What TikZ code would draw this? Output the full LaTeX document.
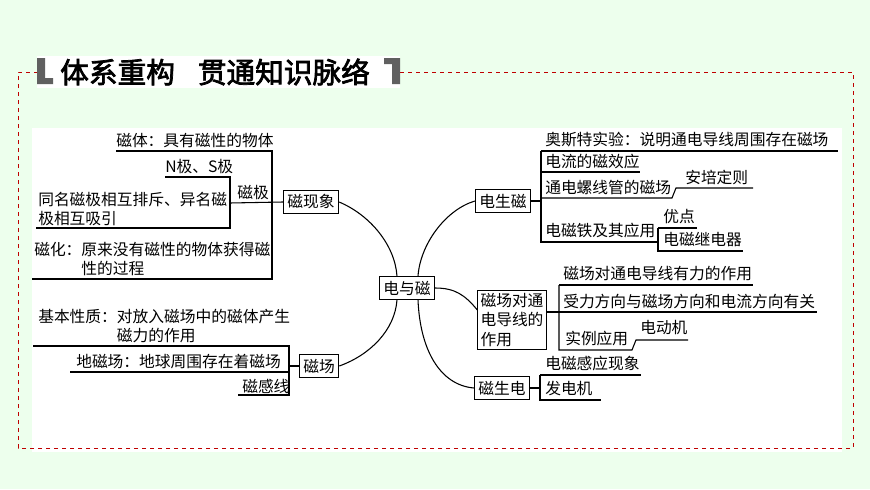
\documentclass[tikz,border=0pt]{standalone}
\usepackage{fontspec}
\setmainfont{Noto Sans CJK SC}
\newfontfamily\tfont[AutoFakeBold=2.5]{Noto Sans CJK SC}
\begin{document}
\begin{tikzpicture}[x=0.75pt,y=-0.75pt,
  lbl/.style={anchor=west,inner sep=0pt,font=\fontsize{11.8}{14.5}\selectfont},
  boxn/.style={draw,line width=0.8pt,inner sep=3pt,font=\fontsize{11.8}{14.5}\selectfont,align=left},
  ln/.style={line width=0.8pt}]
\fill[green!7] (0,0) rectangle (870,489);
\fill[white] (32,128) rectangle (842,452);
\draw[red!75!black,dashed,line width=0.6pt] (400,72) -- (853,72) -- (853,448) -- (18,448) -- (18,72) -- (37,72);
\fill[white] (37,56) rectangle (400,88);
\fill[gray!75!black] (37,58) rectangle (45,84) (37,78) rectangle (53,84);
\fill[gray!75!black] (392,58) rectangle (400,84) (384,58) rectangle (400,64);
\node[anchor=west,inner sep=0pt,font=\tfont\bfseries\fontsize{21.5}{24}\selectfont] (title) at (60,72) {体系重构\hspace{0.8em}贯通知识脉络};
% center
\node[boxn] (c) at (407,288) {电与磁};
% left top group
\node[boxn] (xx) at (311,202) {磁现象};
\node[lbl] (t1) at (116,140) {磁体：具有磁性的物体};
\node[lbl] (t2) at (165,167) {N极、S极};
\node[lbl,align=left] (t3) at (38,209) {同名磁极相互排斥、异名磁\\极相互吸引};
\node[lbl] (t4) at (237,193) {磁极};
\node[lbl,align=left] (t5) at (34,259) {磁化：原来没有磁性的物体获得磁\\\hspace{3em}性的过程};
\draw[ln] (116,151) -- (272,151) -- (272,279) -- (32,279);
\draw[ln] (165,177) -- (230,177) -- (230,228) -- (36,228);
\draw[ln] (230,203) -- (xx.west);
% left bottom group
\node[boxn] (cc) at (319,366) {磁场};
\node[lbl,align=left] (b1) at (38,326) {基本性质：对放入磁场中的磁体产生\\\hspace{5em}磁力的作用};
\node[lbl] (b2) at (76,362) {地磁场：地球周围存在着磁场};
\node[lbl] (b3) at (242,386) {磁感线};
\draw[ln] (33,346) -- (289,346) -- (289,395) -- (238,395);
\draw[ln] (70,372) -- (289,372);
\draw[ln] (289,366) -- (cc.west);
% right group 1
\node[boxn] (ds) at (503,201) {电生磁};
\node[lbl] (r1) at (545,140) {奥斯特实验：说明通电导线周围存在磁场};
\node[lbl] (r2) at (545,162) {电流的磁效应};
\node[lbl] (r3) at (545,187) {通电螺线管的磁场};
\node[lbl] (r4) at (685,177) {安培定则};
\node[lbl] (r5) at (545,231) {电磁铁及其应用};
\node[lbl] (r6) at (663,217) {优点};
\node[lbl] (r7) at (663,240) {电磁继电器};
\draw[ln] (ds.east) -- (541,201);
\draw[ln] (541,151) -- (838,151);
\draw[ln] (541,151) -- (541,242) -- (658,242);
\draw[ln] (541,172) -- (640,172);
\draw[ln] (541,198) -- (672,198) -- (676,188) -- (753,188);
\draw[ln] (658,228) -- (697,228);
\draw[ln] (658,228) -- (658,251) -- (743,251);
% right group 2
\node[boxn,inner sep=2pt] (zc) at (512,320) {磁场对通\\电导线的\\作用};
\node[lbl] (s1) at (563,274) {磁场对通电导线有力的作用};
\node[lbl] (s2) at (563,301) {受力方向与磁场方向和电流方向有关};
\node[lbl] (s3) at (565,339) {实例应用};
\node[lbl] (s4) at (640,328) {电动机};
\draw[ln] (zc.east |- 312,312) -- (559,312);
\draw[ln] (559,285) -- (753,285);
\draw[ln] (559,285) -- (559,350) -- (632,350) -- (636,340) -- (688,340);
\draw[ln] (559,312) -- (817,312);
% right group 3
\node[boxn] (sd) at (502,388) {磁生电};
\node[lbl] (u1) at (545,364) {电磁感应现象};
\node[lbl] (u2) at (545,389) {发电机};
\draw[ln] (sd.east) -- (540,388);
\draw[ln] (540,375) -- (641,375);
\draw[ln] (540,375) -- (540,400) -- (601,400);
% curves
\draw[ln] (xx.east) .. controls (370,215) and (395,245) .. (c.north -| 397,0);
\draw[ln] (cc.east) .. controls (370,355) and (395,330) .. (c.south -| 397,0);
\draw[ln] (c.north -| 418,0) .. controls (420,245) and (445,210) .. (ds.west);
\draw[ln] (c.east) .. controls (455,288) and (465,295) .. (zc.west |- 0,310);
\draw[ln] (c.south -| 418,0) .. controls (420,350) and (440,385) .. (sd.west);
\end{tikzpicture}
\end{document}
